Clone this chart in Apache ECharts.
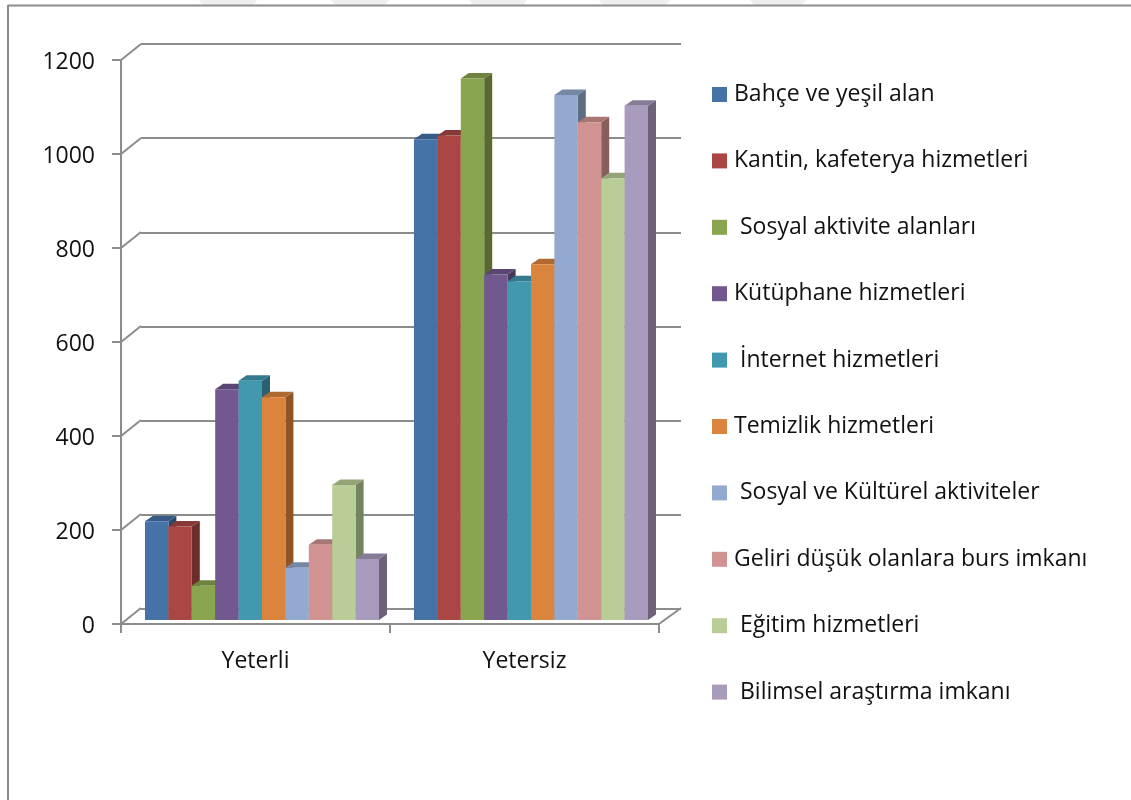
<!DOCTYPE html>
<html><head><meta charset="utf-8">
<style>html,body{margin:0;padding:0;background:#fff}#c{width:1131px;height:800px}</style>
<script src="https://cdn.jsdelivr.net/npm/echarts@6/dist/echarts.min.js"></script>
</head><body><div id="c"></div>
<script>
const categories = ['Yeterli', 'Yetersiz'];
const seriesNames = ['Bahçe ve yeşil alan','Kantin, kafeterya hizmetleri',' Sosyal aktivite alanları','Kütüphane hizmetleri',' İnternet hizmetleri','Temizlik hizmetleri',' Sosyal ve Kültürel aktiviteler','Geliri düşük olanlara burs imkanı',' Eğitim hizmetleri',' Bilimsel araştırma imkanı'];
const bahce = [210, 1023];
const kantin = [199, 1031];
const sosyalAlan = [73, 1152];
const kutuphane = [491, 735];
const internet = [509, 721];
const temizlik = [474, 757];
const sosyalKultur = [111, 1117];
const burs = [160, 1059];
const egitim = [287, 940];
const bilimsel = [130, 1094];
const allValues = [bahce,kantin,sosyalAlan,kutuphane,internet,temizlik,sosyalKultur,burs,egitim,bilimsel];
const colors = ['#4572A7','#AA4643','#89A54E','#71588F','#4198AF','#DB843D','#93A9CF','#D19392','#B9CD96','#A99BBD'];
const yTicks = [0,200,400,600,800,1000,1200];

const FONT = '"Open Sans"';
const BAR_W = 23.4, SHIFT_X = 6.5, SHIFT_Y = -4, DX = 8, DY = -5.5;
const GRAY = '#8c8c8c';

function shade(hex, f){
  const n = parseInt(hex.slice(1),16);
  const r = Math.round((n>>16)*f), g = Math.round(((n>>8)&255)*f), b = Math.round((n&255)*f);
  return 'rgb('+r+','+g+','+b+')';
}
function barSeries(i){
  return {
    type:'custom', name:seriesNames[i], xAxisIndex:0, yAxisIndex:0, clip:false, z:5+i,
    itemStyle:{color:colors[i]},
    data: categories.map((c,k)=>[k, allValues[i][k]]),
    encode:{x:0,y:1},
    renderItem(params, api){
      const top = api.coord([api.value(0), api.value(1)]);
      const base = api.coord([api.value(0), 0]);
      const x0 = top[0] - 5*BAR_W + i*BAR_W + SHIFT_X, x1 = x0 + BAR_W;
      const y0 = top[1] + SHIFT_Y, y1 = base[1] + SHIFT_Y;
      return {type:'group', children:[
        {type:'polygon', shape:{points:[[x1,y0],[x1+DX,y0+DY],[x1+DX,y1+DY],[x1,y1]]}, style:{fill:shade(colors[i],0.64)}},
        {type:'polygon', shape:{points:[[x0,y0],[x0+DX,y0+DY],[x1+DX,y0+DY],[x1,y0]]}, style:{fill:shade(colors[i],0.8)}},
        {type:'rect', shape:{x:x0,y:y0,width:BAR_W,height:y1-y0}, style:{fill:colors[i]}}
      ]};
    }
  };
}
const diagSeries = {
  type:'custom', xAxisIndex:0, yAxisIndex:0, clip:false, z:2, silent:true,
  data: yTicks.map(v=>[0,v]), encode:{y:1},
  renderItem(params, api){
    const y = api.coord([0, api.value(1)])[1];
    const L = params.coordSys.x, R = L + params.coordSys.width;
    const line = (a,b)=>({type:'line', shape:{x1:a,y1:y,x2:b,y2:y-16}, style:{stroke:GRAY,lineWidth:2}});
    const kids = [line(L, L+20)];
    if (api.value(1)===0) kids.push(line(R, R+22));
    return {type:'group', children:kids};
  }
};
const axisText = {fontFamily:FONT, fontSize:23, color:'#111111'};
const watermark = [[199,257],[331,389],[469,527],[599,670],[750,806]].map(p=>({
  type:'polygon', z:0, silent:true,
  shape:{points:[[p[0],0],[p[1],0],[p[1]-4,5],[p[0]+4,5]]}, style:{fill:'#eeeeee'}
}));
const chart = echarts.init(document.getElementById('c'), null, {renderer:'canvas'});
chart.setOption({
  animation:false,
  backgroundColor:'#fff',
  graphic: watermark.concat([
    {type:'line', z:1, silent:true, shape:{x1:8,y1:5.5,x2:1131,y2:5.5}, style:{stroke:GRAY,lineWidth:2}},
    {type:'line', z:1, silent:true, shape:{x1:8,y1:5,x2:8,y2:800}, style:{stroke:GRAY,lineWidth:2}}
  ]),
  legend:{
    show:true, orient:'vertical', left:712, top:81, itemWidth:15, itemHeight:15, itemGap:39.4, padding:0,
    icon:'rect', selectedMode:false, data:seriesNames,
    textStyle:{fontFamily:FONT, fontSize:23, color:'#111111', lineHeight:27, padding:[0,0,0,2]},
    itemStyle:{borderWidth:0}
  },
  grid:[
    {left:121, top:60, width:538, height:564},
    {left:141, top:44, width:540, height:565}
  ],
  xAxis:[
    {type:'category', gridIndex:0, data:categories, z:3,
      axisLine:{lineStyle:{color:GRAY,width:2}}, axisTick:{show:true,length:9,lineStyle:{color:GRAY,width:2}},
      axisLabel:Object.assign({margin:26}, axisText), splitLine:{show:false}},
    {type:'category', gridIndex:1, data:categories, show:false}
  ],
  yAxis:[
    {type:'value', gridIndex:0, min:0, max:1200, interval:200, z:3,
      axisLine:{show:true,lineStyle:{color:GRAY,width:2}}, axisTick:{show:true,length:9,lineStyle:{color:GRAY,width:2}},
      axisLabel:Object.assign({margin:26, formatter:v=>String(v), verticalAlign:'top', lineHeight:4}, axisText), splitLine:{show:false}},
    {type:'value', gridIndex:1, min:0, max:1200, interval:200,
      axisLine:{show:false}, axisTick:{show:false}, axisLabel:{show:false},
      splitLine:{show:true,lineStyle:{color:GRAY,width:2}}}
  ],
  series:[diagSeries].concat(seriesNames.map((n,i)=>barSeries(i)))
});
</script></body></html>
